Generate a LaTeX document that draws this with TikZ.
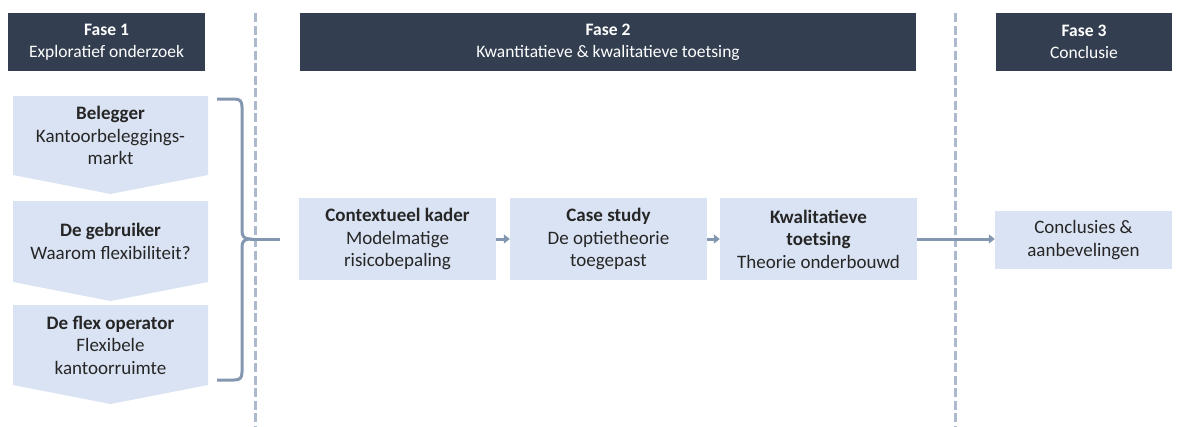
\documentclass[tikz,border=0pt]{standalone}
\usepackage{fontspec}
\setmainfont{Carlito}
\usetikzlibrary{arrows.meta, positioning, calc}
\definecolor{headnavy}{RGB}{51, 63, 80}
\definecolor{boxblue}{RGB}{218, 227, 243}
\definecolor{linegray}{RGB}{132, 151, 176}
\definecolor{dashgray}{RGB}{173, 185, 205}
\definecolor{textdark}{RGB}{38, 38, 38}

\tikzset{
  phasehead/.style={fill=headnavy, text=white, align=center, inner sep=0pt, minimum height=58pt, font=\fontsize{17.5}{22}\selectfont},
  stepbox/.style={fill=boxblue, text=textdark, align=center, inner sep=0pt, font=\fontsize{19}{22.5}\selectfont},
  steptext/.style={text=textdark, align=center, inner sep=0pt, font=\fontsize{19}{22.5}\selectfont},
  phasesep/.style={draw=dashgray, line width=3pt, dash pattern=on 9pt off 3.5pt},
  flowarrow/.style={draw=linegray, line width=3pt, -{Triangle[length=6pt, width=9pt]}},
}

\begin{document}
\begin{tikzpicture}[x=1pt, y=-1pt]
  \useasboundingbox (0,0) rectangle (1186,426);

  % Phase headers
  \node[phasehead, minimum width=197pt] (fase1) at (106.5,42) {\textbf{Fase 1}\\Exploratief onderzoek};
  \node[phasehead, minimum width=616pt] (fase2) at (608,42) {\textbf{Fase 2}\\Kwantitatieve \& kwalitatieve toetsing};
  \node[phasehead, minimum width=176pt] (fase3) at (1084,42) {\textbf{Fase 3}\\Conclusie};

  % Separators between phases
  \draw[phasesep] (255,13) -- (255,426);
  \draw[phasesep] (955,13) -- (955,426);

  % Explorative chevrons
  \foreach \top/\bot/\tip in {96/175/194, 201/282/301, 305/385/404}
    \fill[boxblue] (13,\top) -- (208,\top) -- (208,\bot) -- (110.5,\tip) -- (13,\bot) -- cycle;
  \node[steptext] (belegger) at (110.5,135.5) {\textbf{Belegger}\\Kantoorbeleggings-\\markt};
  \node[steptext] (gebruiker) at (110.5,241.5) {\textbf{De gebruiker}\\Waarom flexibiliteit?};
  \node[steptext] (flexop) at (110.5,345) {\textbf{De flex operator}\\Flexibele\\kantoorruimte};

  % Brace collecting phase 1
  \coordinate (bracetip) at (250,239);
  \coordinate (braceend) at (280,239);
  \draw[linegray, line width=3pt]
    (217,99) -- (234,99) .. controls (240,99) and (242,101) .. (242,107) -- (242,231)
    .. controls (242,236) and (244,239) .. (bracetip)
    .. controls (244,239) and (242,242) .. (242,247) -- (242,372)
    .. controls (242,378) and (240,380) .. (234,380) -- (217,380);
  \draw[linegray, line width=3pt] (bracetip) -- (braceend);

  % Phase 2 steps
  \node[stepbox, minimum width=197pt, minimum height=82pt] (kader) at (397.5,239) {\textbf{Contextueel kader}\\Modelmatige\\risicobepaling};
  \node[stepbox, minimum width=197pt, minimum height=82pt] (casestudy) at (608.5,239) {\textbf{Case study}\\De optietheorie\\toegepast};
  \node[stepbox, minimum width=197pt, minimum height=82pt] (kwalitatief) at (818.5,239) {\textbf{Kwalitatieve}\\\textbf{toetsing}\\Theorie onderbouwd};

  % Phase 3
  \node[stepbox, minimum width=177pt, minimum height=58pt] (conclusies) at (1083.5,240) {Conclusies \&\\aanbevelingen};

  % Flow
  \draw[flowarrow] (kader.east) -- (casestudy.west);
  \draw[flowarrow] (casestudy.east) -- (kwalitatief.west);
  \draw[flowarrow] (kwalitatief.east) -- (kwalitatief.east -| conclusies.west);
\end{tikzpicture}
\end{document}
